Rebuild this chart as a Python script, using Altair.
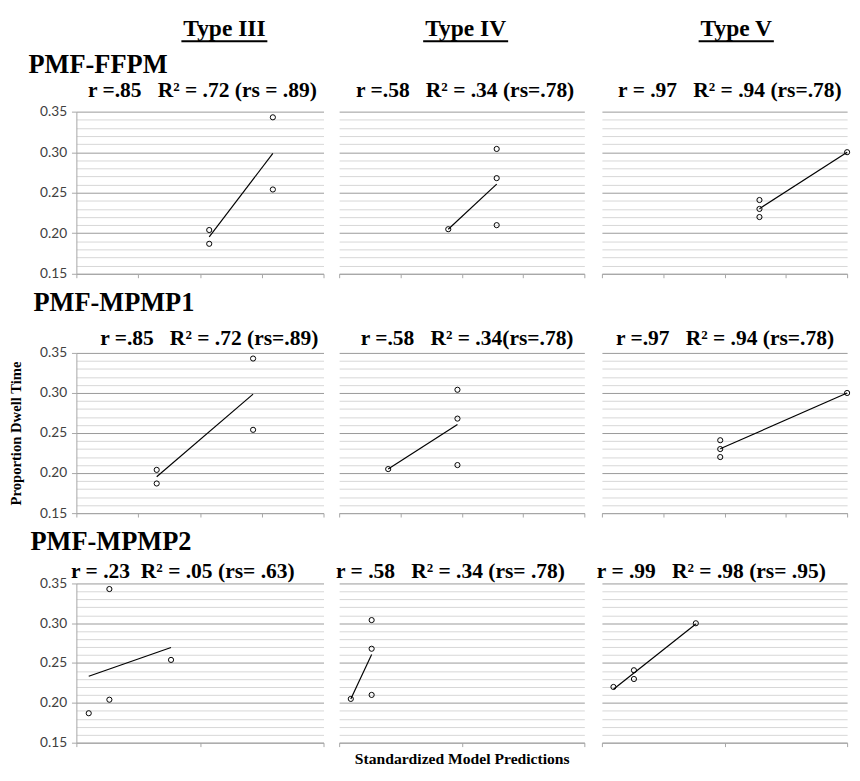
import re
import altair as alt
import pandas as pd

# ---------------- data ----------------
types = ["Type III", "Type IV", "Type V"]
models = ["PMF-FFPM", "PMF-MPMP1", "PMF-MPMP2"]

# observed proportion dwell time (same for every model row)
obs_type3 = [0.204, 0.187, 0.343, 0.254]
obs_type4 = [0.205, 0.304, 0.268, 0.210]
obs_type5 = [0.241, 0.230, 0.220, 0.300]

# standardized model predictions (x), per model and type
pred_ffpm_type3 = [2.15, 2.15, 3.18, 3.18]
pred_ffpm_type4 = [1.78, 2.57, 2.57, 2.57]
pred_ffpm_type5 = [2.57, 2.57, 2.57, 4.00]
pred_mpmp1_type3 = [1.30, 1.30, 2.86, 2.86]
pred_mpmp1_type4 = [0.80, 1.93, 1.93, 1.93]
pred_mpmp1_type5 = [1.93, 1.93, 1.93, 4.00]
pred_mpmp2_type3 = [0.267, 0.100, 0.267, 0.766]
pred_mpmp2_type4 = [0.095, 0.265, 0.265, 0.265]
pred_mpmp2_type5 = [0.261, 0.261, 0.094, 0.766]

stats = [
    ["r =.85   R\u00b2 = .72 (rs = .89)", "r =.58   R\u00b2 = .34 (rs=.78)", "r = .97   R\u00b2 = .94 (rs=.78)"],
    ["r =.85   R\u00b2 = .72 (rs=.89)", "r =.58   R\u00b2 = .34(rs=.78)", "r =.97   R\u00b2 = .94 (rs=.78)"],
    ["r = .23  R\u00b2 = .05 (rs= .63)", "r = .58   R\u00b2 = .34 (rs= .78)", "r = .99   R\u00b2 = .98 (rs= .95)"],
]
x_title = "Standardized Model Predictions"
y_title = "Proportion Dwell Time"

y_ticks = [0.15, 0.16, 0.17, 0.18, 0.19, 0.20, 0.21, 0.22, 0.23, 0.24, 0.25,
           0.26, 0.27, 0.28, 0.29, 0.30, 0.31, 0.32, 0.33, 0.34, 0.35]
x_ticks_rows = [[0, 1, 2, 3, 4], [0, 1, 2, 3, 4], [0, 1, 2]]

obs = [obs_type3, obs_type4, obs_type5]
preds = [
    [pred_ffpm_type3, pred_ffpm_type4, pred_ffpm_type5],
    [pred_mpmp1_type3, pred_mpmp1_type4, pred_mpmp1_type5],
    [pred_mpmp2_type3, pred_mpmp2_type4, pred_mpmp2_type5],
]

# ---------------- styling ----------------
SERIF = "Liberation Serif"
SANS = "Lato"
col_widths = [253, 251, 251]
row_heights = [166, 164, 163]
stat_pad = [15, 9, 6]
label_offset = [1, 10, 4]
label_dx = [-49, -44, -47]
stat_dx = [[2, 3, 5], [9, 5, 0], [-18, -12, -14]]
header_dx = [25, 4, 12]
underline_w = [88, 87, 77]
MAJOR = "round(datum.value * 100) % 5 == 0"
AXIS_GRAY = "#a6a6a6"


def nb(s):
    return re.sub(r"  +", lambda m: "\u00a0" * len(m.group()), s)


def panel(r, c):
    df = pd.DataFrame({"x": preds[r][c], "y": obs[c]})
    w, h = col_widths[c], row_heights[r]
    first = c == 0
    xs = alt.Scale(domain=[0, x_ticks_rows[r][-1]], nice=False, zero=False)
    ys = alt.Scale(domain=[0.15, 0.35], nice=False, zero=False)

    y_axis = alt.Axis(
        values=y_ticks, grid=True, gridWidth=1,
        gridColor={"condition": {"test": MAJOR, "value": "#999999"}, "value": "#d6d6d6"},
        labels=first, labelOverlap=False,
        labelExpr=f"{MAJOR} ? format(datum.value, '.2f') : ''",
        labelFont=SANS, labelFontSize=14, labelColor="#404040", labelPadding=5,
        ticks=first, tickSize=5, tickColor=AXIS_GRAY,
        tickOpacity={"condition": {"test": MAJOR, "value": 1}, "value": 0},
        domain=first, domainColor=AXIS_GRAY,
        title=y_title if (first and r == 1) else None,
        titleFont=SERIF, titleFontSize=15, titleFontWeight="bold",
        titleColor="black", titlePadding=17,
    )
    bottom_axis = alt.Axis(
        orient="bottom", values=x_ticks_rows[r], labels=False, grid=False,
        ticks=True, tickSize=4, tickColor=AXIS_GRAY,
        domain=True, domainColor=AXIS_GRAY,
        title=x_title if (r == 2 and c == 1) else None,
        titleFont=SERIF, titleFontSize=16, titleFontWeight="bold",
        titleColor="black", titlePadding=4,
    )
    stat_axis = alt.Axis(
        orient="top", labels=False, ticks=False, grid=False,
        domain=True, domainOpacity=0,
        title=nb(stats[r][c]), titleFont=SERIF, titleFontSize=22,
        titleFontWeight="bold", titleColor="black",
        titlePadding=stat_pad[r], titleBaseline="alphabetic",
        titleX=w / 2 + stat_dx[r][c],
    )

    pts = alt.Chart(df).mark_point(
        shape="circle", filled=False, color="black", size=28, strokeWidth=1, opacity=1
    ).encode(
        x=alt.X("x:Q", scale=xs, axis=bottom_axis),
        y=alt.Y("y:Q", scale=ys, axis=y_axis),
    )
    line = alt.Chart(df).transform_regression("x", "y").mark_line(
        color="black", strokeWidth=1.2
    ).encode(
        x=alt.X("x:Q", scale=xs, axis=stat_axis),
        y=alt.Y("y:Q", scale=ys, axis=y_axis),
    )
    ch = alt.layer(pts, line).resolve_axis(x="independent", y="shared").properties(width=w, height=h)
    if first:
        ch = ch.properties(title=alt.TitleParams(
            models[r], anchor="start", frame="group", dx=label_dx[r],
            offset=label_offset[r], font=SERIF, fontSize=27,
            fontWeight="bold", color="black"))
    return ch


def header(c):
    w = col_widths[c]
    cx = w / 2 + header_dx[c]
    return alt.Chart(pd.DataFrame({"type": [types[c]]})).mark_rule(
        color="black", strokeWidth=2
    ).encode(
        x=alt.value(cx - underline_w[c] / 2),
        x2=alt.value(cx + underline_w[c] / 2),
        y=alt.value(0),
    ).properties(
        width=w, height=1,
        title=alt.TitleParams(types[c], anchor="middle", frame="group",
                              dx=header_dx[c], offset=-1, font=SERIF,
                              fontSize=24, fontWeight="bold", color="black"),
    )


cells = [header(c) for c in range(3)]
cells += [panel(r, c) for r in range(3) for c in range(3)]

chart = alt.concat(
    *cells, columns=3, align="each", spacing={"row": 9, "column": 11},
).properties(
    padding={"left": 0, "top": 1, "right": 0, "bottom": 0},
    background="white",
).configure_view(strokeWidth=0)

chart.save("out.html", embed_options={"renderer": "svg", "actions": False})
